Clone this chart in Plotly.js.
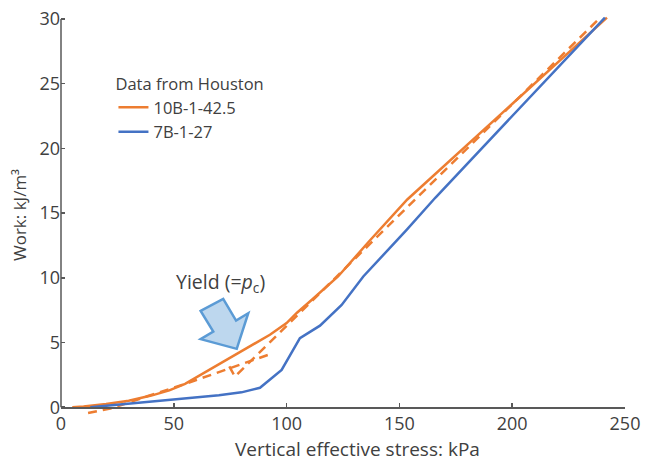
<!DOCTYPE html>
<html>
<head>
<meta charset="utf-8">
<script src="https://cdn.plot.ly/plotly-3.0.1.min.js"></script>
<style>html,body{margin:0;padding:0;background:#fff;}#chart{width:647px;height:461px;}</style>
</head>
<body>
<div id="chart"></div>
<script>
// Data
const seriesNames = ["10B-1-42.5", "7B-1-27"];
const legendTitle = "Data from Houston";

const orangeX = [5, 10, 20, 30, 40, 48, 55, 60, 65, 70, 78, 85, 92.6, 100, 104.6, 111.2, 122.8, 137, 153.5, 242];
const orangeY = [0, 0.05, 0.25, 0.5, 0.9, 1.3, 1.8, 2.3, 2.85, 3.35, 4.15, 4.85, 5.6, 6.5, 7.3, 8.3, 10.1, 12.9, 16.05, 30.1];

const blueX = [13, 20, 30, 40, 50, 55, 70, 80, 88.2, 97.8, 105.9, 114.8, 124.4, 134, 153.2, 166, 241.1];
const blueY = [0, 0.12, 0.28, 0.45, 0.6, 0.7, 0.92, 1.15, 1.5, 2.88, 5.33, 6.3, 7.9, 10.1, 13.7, 16.2, 30.1];

const preYieldX = [12, 23, 40, 55, 93.5];
const preYieldY = [-0.45, -0.05, 0.95, 1.8, 4.15];

const postYieldX = [74.6, 77.1, 237.6];
const postYieldY = [3.15, 2.37, 29.85];

const xTicks = [0, 50, 100, 150, 200, 250];
const yTicks = [0, 5, 10, 15, 20, 25, 30];

const ORANGE = "#ED7D31", BLUE = "#4472C4", TXT = "#404040", AX = "#595959";
const FONT = "Open Sans, Noto Sans, sans-serif";

const traces = [
  {x: orangeX, y: orangeY, mode: "lines", name: seriesNames[0], line: {color: ORANGE, width: 2.5}},
  {x: preYieldX, y: preYieldY, mode: "lines", showlegend: false, line: {color: ORANGE, width: 2.5, dash: "9px,6px"}},
  {x: postYieldX, y: postYieldY, mode: "lines", showlegend: false, line: {color: ORANGE, width: 2.5, dash: "9px,6px"}},
  {x: blueX, y: blueY, mode: "lines", name: seriesNames[1], line: {color: BLUE, width: 2.5}}
];

const yMin = -0.6, yMax = 30.3;

const layout = {
  width: 647, height: 461,
  margin: {l: 61, r: 22, t: 15, b: 46},
  paper_bgcolor: "#fff", plot_bgcolor: "#fff",
  font: {family: FONT, color: TXT, size: 17},
  showlegend: true,
  legend: {
    title: {text: legendTitle, font: {size: 16.5, color: TXT}},
    font: {size: 16.5, color: TXT},
    x: 0.093, y: 0.866, xanchor: "left", yanchor: "top",
    bgcolor: "rgba(0,0,0,0)", tracegroupgap: 0, itemwidth: 30
  },
  xaxis: {
    range: [0, 250], tickvals: xTicks, ticks: "inside", ticklen: 4, tickwidth: 1.5, tickcolor: AX,
    showline: true, linecolor: AX, linewidth: 1.5, showgrid: false, zeroline: false,
    anchor: "free", position: (0 - yMin) / (yMax - yMin),
    tickfont: {size: 18, color: TXT}
  },
  yaxis: {
    range: [yMin, yMax], tickvals: yTicks, ticks: "inside", ticklen: 4, tickwidth: 1.5, tickcolor: AX,
    showline: false, showgrid: false, zeroline: false,
    tickfont: {size: 18, color: TXT},
    title: {text: "Work: kJ/m³", font: {size: 17, color: TXT}, standoff: 8}
  },
  shapes: [
    {type: "line", xref: "paper", yref: "y", x0: 0, x1: 0, y0: 0, y1: 30, line: {color: AX, width: 1.5}},
    {type: "path", xref: "x", yref: "y",
     path: "M61.9,7.44 L71.9,8.37 L77.6,6.69 L83.0,7.26 L77.9,4.51 L61.9,5.26 L67.5,5.84 Z",
     fillcolor: "#BDD7EE", line: {color: "#5B9BD5", width: 2.5}}
  ],
  annotations: [
    {x: 70.5, y: 9.6, xref: "x", yref: "y", text: "Yield (=<i>p</i><sub>c</sub>)", showarrow: false,
     font: {size: 19.5, color: TXT}},
    {x: 0.525, y: -0.085, xref: "paper", yref: "paper", xanchor: "center", yanchor: "middle",
     text: "Vertical effective stress: kPa", showarrow: false, font: {size: 19, color: TXT}}
  ]
};

Plotly.newPlot("chart", traces, layout, {displayModeBar: false, staticPlot: true});
</script>
</body>
</html>
